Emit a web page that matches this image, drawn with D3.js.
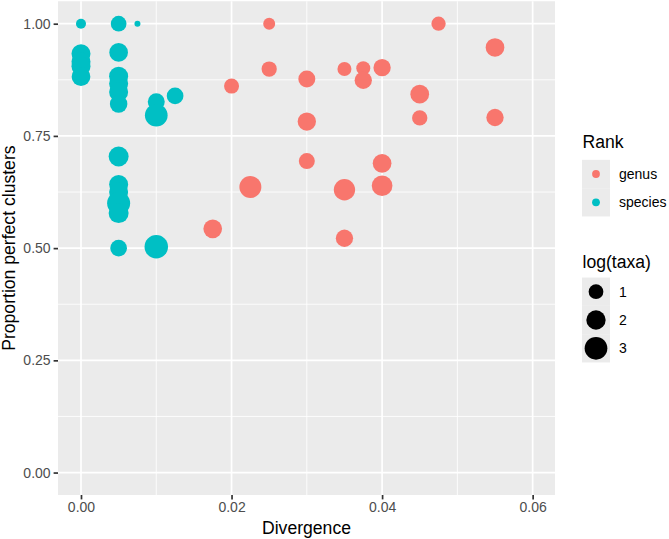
<!DOCTYPE html>
<html>
<head>
<meta charset="utf-8">
<script src="https://cdn.jsdelivr.net/npm/d3@7"></script>
<style>
  body { margin: 0; background: #fff; }
  svg { display: block; font-family: "Liberation Sans", Arial, sans-serif; }
</style>
</head>
<body>
<svg id="chart" width="669" height="539"></svg>
<script>
// ---- data ----
const rank = [
  "species","species","species","species","species","species","species","species","species","species","species",
  "species","species","species","species","species","species","species","species","species","species","species",
  "genus","genus","genus","genus","genus","genus","genus","genus","genus","genus","genus",
  "genus","genus","genus","genus","genus","genus","genus","genus","genus","genus"
];
const divergence = [
  0, 0, 0, 0, 0, 0.005, 0.005, 0.005, 0.005, 0.005, 0.005,
  0.005, 0.005, 0.005, 0.005, 0.005, 0.005, 0.0075, 0.01, 0.01, 0.0125, 0.01,
  0.02, 0.025, 0.025, 0.03, 0.03, 0.03, 0.0225, 0.0175, 0.035, 0.0375, 0.0375,
  0.04, 0.045, 0.045, 0.0475, 0.055, 0.055, 0.04, 0.04, 0.035, 0.035
];
const proportion = [
  1.00, 0.933, 0.915, 0.905, 0.882, 1.00, 0.936, 0.883, 0.866, 0.848, 0.821,
  0.704, 0.642, 0.625, 0.600, 0.578, 0.500, 1.00, 0.826, 0.796, 0.839, 0.503,
  0.861, 1.00, 0.899, 0.877, 0.782, 0.694, 0.636, 0.543, 0.899, 0.901, 0.874,
  0.902, 0.843, 0.790, 1.00, 0.947, 0.791, 0.689, 0.639, 0.630, 0.522
];
const logTaxa = [
  0.41, 1.92, 1.92, 1.92, 1.84, 1.18, 1.84, 1.92, 1.92, 1.92, 1.56,
  2.18, 1.92, 1.92, 3.10, 2.18, 1.38, 0.25, 1.44, 3.00, 1.38, 3.27,
  1.05, 0.60, 1.10, 1.44, 1.74, 1.24, 2.77, 1.84, 0.88, 0.88, 1.51,
  1.51, 1.84, 1.10, 0.93, 1.84, 1.51, 1.84, 2.38, 2.56, 1.51
];
const rankLevels = ["genus", "species"];
const rankColors = ["#F8766D", "#00BFC4"];
const xTicks = [0, 0.02, 0.04, 0.06];
const xMinor = [0.01, 0.03, 0.05];
const yTicks = [0, 0.25, 0.5, 0.75, 1.0];
const yMinor = [0.125, 0.375, 0.625, 0.875];
const sizeBreaks = [1, 2, 3];

const points = rank.map((r, i) => ({ rank: r, x: divergence[i], y: proportion[i], s: logTaxa[i] }));

// ---- layout ----
const svg = d3.select("#chart");
const P = { left: 58, right: 555, top: 1.25, bottom: 495 };

const x = d3.scaleLinear().domain([-0.003055, 0.06297]).range([P.left, P.right]);
const y = d3.scaleLinear().domain([-0.05, 1.05]).range([P.bottom, P.top]);
const color = d3.scaleOrdinal().domain(rankLevels).range(rankColors);
const sizeT = d3.scaleLinear().domain(d3.extent(logTaxa)).range([0, 1]);
const radius = v => (6 + 17.5 * Math.sqrt(Math.max(0, sizeT(v)))) / 2;

// panel
svg.append("rect").attr("x", P.left).attr("y", P.top)
  .attr("width", P.right - P.left).attr("height", P.bottom - P.top).attr("fill", "#EBEBEB");

const grid = svg.append("g");
grid.selectAll(".xm").data(xMinor).join("line")
  .attr("x1", d => x(d)).attr("x2", d => x(d)).attr("y1", P.top).attr("y2", P.bottom)
  .attr("stroke", "#fff").attr("stroke-width", 0.85);
grid.selectAll(".ym").data(yMinor).join("line")
  .attr("y1", d => y(d)).attr("y2", d => y(d)).attr("x1", P.left).attr("x2", P.right)
  .attr("stroke", "#fff").attr("stroke-width", 0.85);
grid.selectAll(".xM").data(xTicks).join("line")
  .attr("x1", d => x(d)).attr("x2", d => x(d)).attr("y1", P.top).attr("y2", P.bottom)
  .attr("stroke", "#fff").attr("stroke-width", 1.7);
grid.selectAll(".yM").data(yTicks).join("line")
  .attr("y1", d => y(d)).attr("y2", d => y(d)).attr("x1", P.left).attr("x2", P.right)
  .attr("stroke", "#fff").attr("stroke-width", 1.7);

// points
svg.append("g").selectAll("circle").data(points).join("circle")
  .attr("cx", d => x(d.x)).attr("cy", d => y(d.y)).attr("r", d => radius(d.s))
  .attr("fill", d => color(d.rank));

// axes
const xAxis = d3.axisBottom(x).tickValues(xTicks).tickFormat(d3.format(".2f")).tickSize(4.4).tickPadding(3);
const yAxis = d3.axisLeft(y).tickValues(yTicks).tickFormat(d3.format(".2f")).tickSize(4.4).tickPadding(3);

const gx = svg.append("g").attr("transform", `translate(0,${P.bottom})`).call(xAxis);
const gy = svg.append("g").attr("transform", `translate(${P.left},0)`).call(yAxis);
[gx, gy].forEach(g => {
  g.select(".domain").remove();
  g.selectAll(".tick line").attr("stroke", "#333333").attr("stroke-width", 1.7);
  g.selectAll(".tick text").attr("fill", "#4D4D4D").style("font-size", "14px")
    .style("font-family", "'Liberation Sans', Arial, sans-serif");
});

// axis titles
svg.append("text").attr("x", (P.left + P.right) / 2).attr("y", 533.5)
  .attr("text-anchor", "middle").style("font-size", "17.6px").attr("fill", "#000")
  .text("Divergence");
svg.append("text").attr("transform", `translate(14.5,${(P.top + P.bottom) / 2}) rotate(-90)`)
  .attr("text-anchor", "middle").style("font-size", "17.6px").attr("fill", "#000")
  .text("Proportion perfect clusters");

// legend: Rank
const L = svg.append("g");
L.append("text").attr("x", 582.5).attr("y", 148.3).style("font-size", "17.6px").text("Rank");
rankLevels.forEach((r, i) => {
  const cy = 174 + i * 28.3;
  L.append("rect").attr("x", 582).attr("y", cy - 14.15).attr("width", 28).attr("height", 28.3).attr("fill", "#EBEBEB");
  L.append("circle").attr("cx", 596).attr("cy", cy).attr("r", 3.9).attr("fill", color(r));
  L.append("text").attr("x", 619).attr("y", cy).attr("dy", "0.35em")
    .style("font-size", "14px").attr("fill", "#000").text(r);
});

// legend: log(taxa)
L.append("text").attr("x", 582.5).attr("y", 268).style("font-size", "17.6px").text("log(taxa)");
sizeBreaks.forEach((b, i) => {
  const cy = 291.7 + i * 28.3;
  L.append("rect").attr("x", 582).attr("y", cy - 14.15).attr("width", 28).attr("height", 28.3).attr("fill", "#EBEBEB");
  L.append("circle").attr("cx", 596).attr("cy", cy).attr("r", radius(b)).attr("fill", "#000");
  L.append("text").attr("x", 619).attr("y", cy).attr("dy", "0.35em")
    .style("font-size", "14px").attr("fill", "#000").text(b);
});
</script>
</body>
</html>
